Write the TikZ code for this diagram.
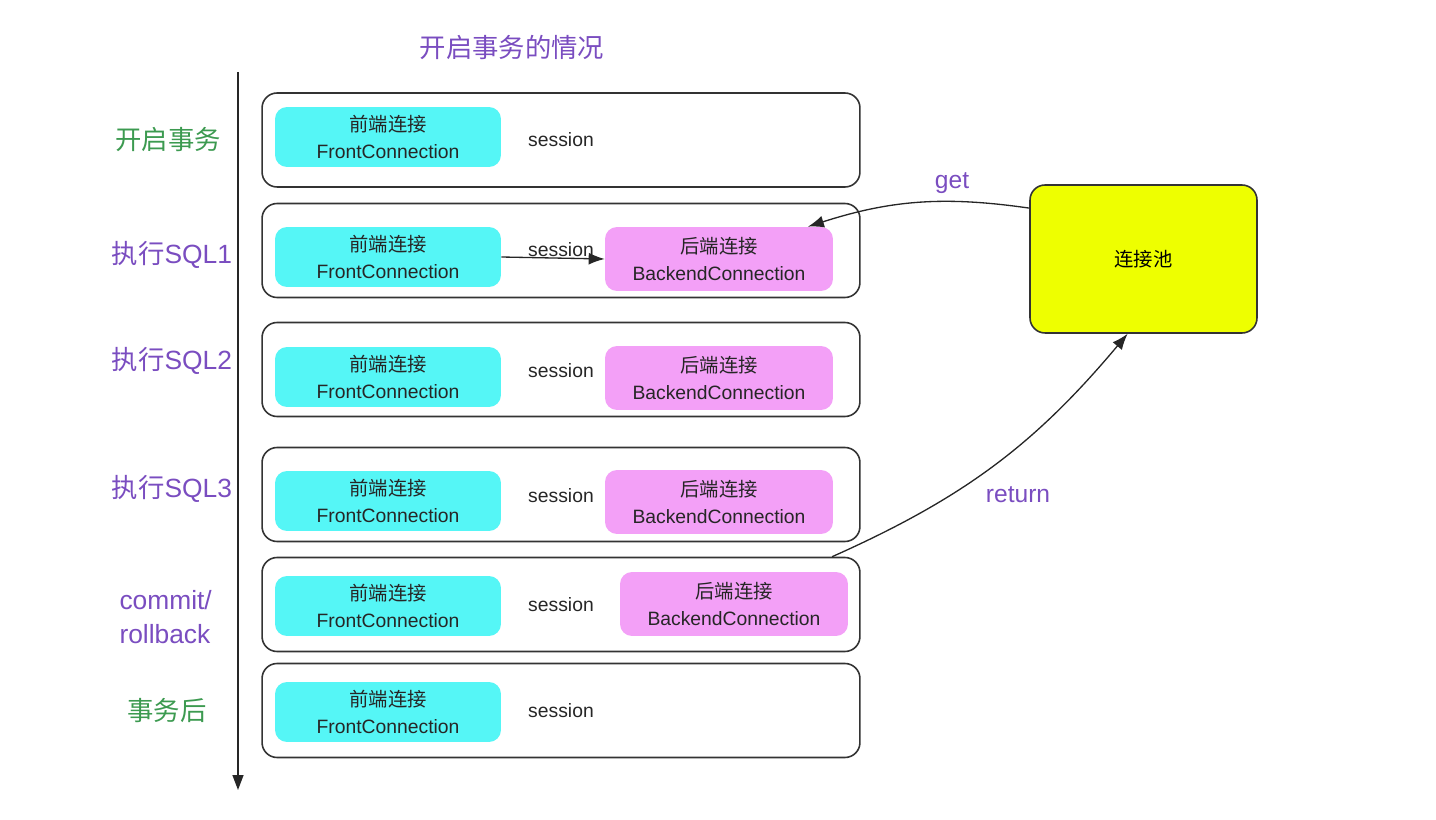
\documentclass[tikz,border=0pt]{standalone}
\usepackage{fontspec}
\setmainfont{Liberation Sans}
\newfontfamily\cjk{Noto Sans CJK SC}
\usetikzlibrary{positioning,arrows.meta}
\definecolor{fccyan}{HTML}{55F6F6}
\definecolor{bcpink}{HTML}{F3A0F7}
\definecolor{poolyel}{HTML}{EEFF00}
\definecolor{txpurple}{HTML}{7A4DC0}
\definecolor{txgreen}{HTML}{3C9A50}
\tikzset{
  rowbox/.style={draw=black!80,line width=0.9pt,rounded corners=0.3cm,fill=white,
    minimum width=11.96cm,minimum height=1.88cm},
  fcon/.style={fill=fccyan,rounded corners=0.24cm,minimum width=4.52cm,minimum height=1.2cm,
    align=center,text=black!85,font=\fontsize{11}{15}\selectfont},
  bcon/.style={fill=bcpink,rounded corners=0.24cm,minimum width=4.56cm,minimum height=1.28cm,
    align=center,text=black!85,font=\fontsize{11}{15}\selectfont},
  sess/.style={font=\fontsize{11}{13}\selectfont,text=black!85,inner sep=1pt},
  poolbox/.style={draw=black!80,line width=0.9pt,fill=poolyel,rounded corners=0.3cm,
    minimum width=4.54cm,minimum height=2.96cm,font=\cjk\fontsize{11}{13}\selectfont},
  phase/.style={font=\fontsize{15}{19.5}\selectfont,align=left},   % step label on the time line
  flow/.style={-{Latex[length=3.2mm,width=2.4mm]},line width=0.75pt,black!85},
  timeln/.style={-{Triangle[length=3mm,width=2.2mm]},line width=0.8pt,black!85},
}
\begin{document}
\begin{tikzpicture}[x=0.02cm,y=-0.02cm]
  \useasboundingbox (0,0) rectangle (1436,820);
  \node[font=\cjk\fontsize{15}{18}\selectfont,text=txpurple] (title) at (512,47) {开启事务的情况};
  % time line
  \coordinate (ttop) at (238,72);
  \coordinate (tbot) at (238,790);
  \draw[timeln] (ttop) -- (tbot);
  % one box per step, each with a front connection and its session
  \foreach \i/\ry/\fy/\sy in {1/140/137/140, 2/250.5/257/250, 3/369.5/377/371,
                              4/494.5/501/496, 5/604.5/606/605, 6/710.5/712/711}{
    \node[rowbox] (r\i) at (561,\ry) {};
    \node[fcon] (f\i) at (388,\fy) {{\cjk 前端连接}\\FrontConnection};
    \node[sess] (s\i) at (561,\sy) {session};
  }
  % backend connections held while the transaction runs
  \node[bcon] (b2) at (719,259) {{\cjk 后端连接}\\BackendConnection};
  \node[bcon] (b3) at (719,378) {{\cjk 后端连接}\\BackendConnection};
  \node[bcon] (b4) at (719,502) {{\cjk 后端连接}\\BackendConnection};
  \node[bcon] (b5) at (734,604) {{\cjk 后端连接}\\BackendConnection};
  \draw[flow] (f2.east) -- (b2.west);
  % step labels
  \node[phase,text=txgreen,font=\cjk\fontsize{15}{18}\selectfont] (p1) at (168,140) {开启事务};
  \node[phase,text=txpurple] (p2) at (172,255) {{\cjk 执行}SQL1};
  \node[phase,text=txpurple] (p3) at (172,361) {{\cjk 执行}SQL2};
  \node[phase,text=txpurple] (p4) at (172,489) {{\cjk 执行}SQL3};
  \node[phase,text=txpurple,anchor=east] (p5) at (218,617) {commit/\\rollback};
  \node[phase,text=txgreen,font=\cjk\fontsize{15}{18}\selectfont] (p6) at (167,711) {事务后};
  % connection pool
  \node[poolbox] (pool) at (1143.5,259) {连接池};
  \draw[flow] (pool.156) to[bend right=13] (b2.20);
  \draw[flow] (r5.10) to[bend right=13] (pool.258);
  \node[font=\fontsize{14}{16}\selectfont,text=txpurple] (lget) at (952,183) {get};
  \node[font=\fontsize{14}{16}\selectfont,text=txpurple] (lret) at (1018,495) {return};
\end{tikzpicture}
\end{document}
